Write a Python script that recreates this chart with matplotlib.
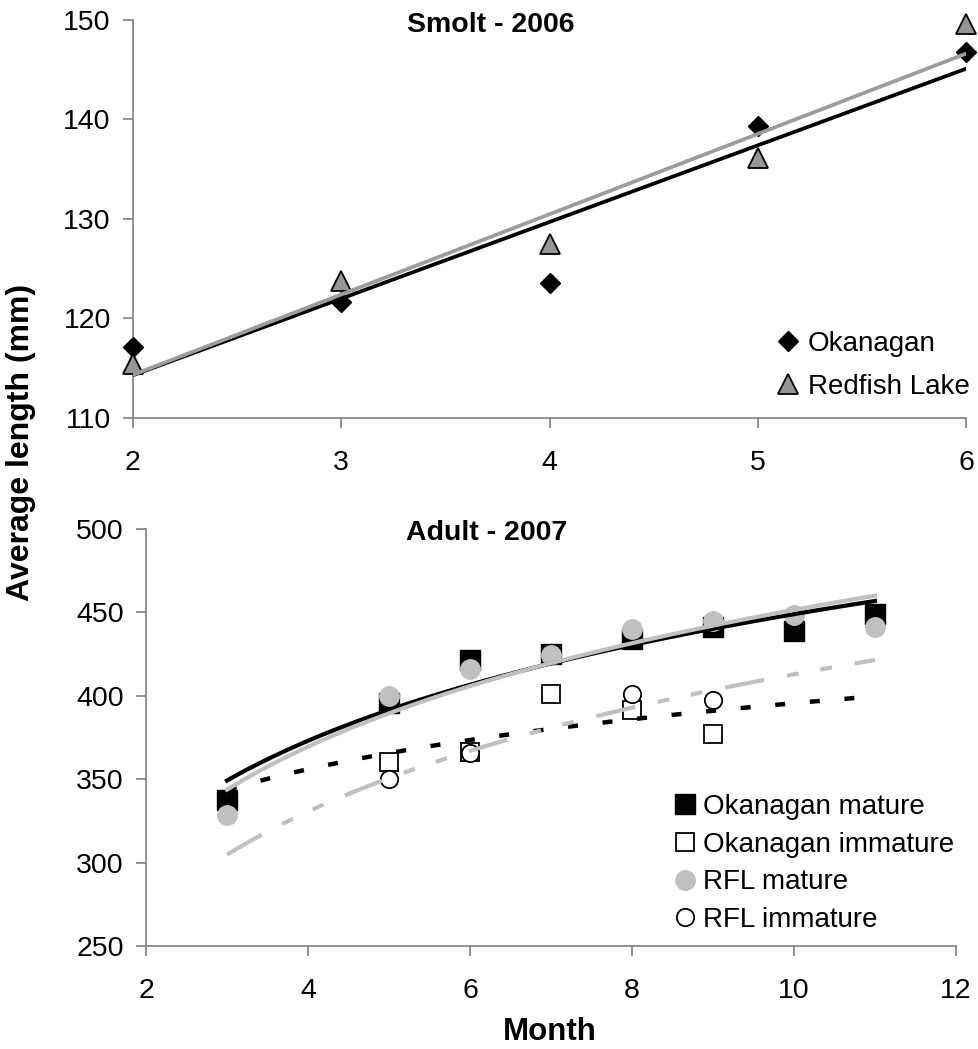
import matplotlib
matplotlib.use("Agg")
import matplotlib.pyplot as plt
import numpy as np

plt.rcParams["font.family"] = ["Liberation Sans", "DejaVu Sans"]
plt.rcParams["lines.scale_dashes"] = False

# ── Smolt 2006 ────────────────────────────────────────────
smolt_month = [2, 3, 4, 5, 6]
okanagan_smolt = [117.1, 121.7, 123.6, 139.3, 146.8]
redfish_smolt = [115.4, 123.8, 127.5, 136.1, 149.6]

# ── Adult 2007 ────────────────────────────────────────────
adult_month = [3, 5, 6, 7, 8, 9, 10, 11]
okanagan_mature = [337.6, 395.4, 421.3, 425.0, 434.0, 441.3, 438.9, 448.9]
rfl_mature = [328.6, 400.0, 416.0, 424.4, 439.7, 444.7, 448.3, 441.3]

okanagan_immature_month = [5, 6, 7, 8, 9]
okanagan_immature = [360.5, 366.5, 400.8, 391.4, 376.9]
rfl_immature_month = [5, 6, 8, 9]
rfl_immature = [350.0, 365.6, 400.8, 397.4]

FS = 20.5
LEG_FS = 20
SPINE = "#7f7f7f"


def style_axes(ax):
    for side in ("top", "right"):
        ax.spines[side].set_visible(False)
    for side in ("left", "bottom"):
        ax.spines[side].set_color(SPINE)
        ax.spines[side].set_linewidth(1.2)
    ax.tick_params(direction="out", length=7, width=1.2, color=SPINE,
                   labelsize=FS)
    ax.tick_params(axis="y", pad=9)
    ax.tick_params(axis="x", pad=16)


def linear_trend(x, y, lo, hi):
    k, b = np.polyfit(x, y, 1)
    xs = np.linspace(lo, hi, 100)
    return xs, k * xs + b


def log_trend(x, y, lo, hi):
    k, b = np.polyfit(np.log(x), y, 1)
    xs = np.linspace(lo, hi, 200)
    return xs, k * np.log(xs) + b


fig = plt.figure(figsize=(9.79, 10.49), dpi=100)
W, H = 979, 1049

# top panel: smolts
ax1 = fig.add_axes([133 / W, 1 - 418 / H, 833 / W, 398 / H])
style_axes(ax1)
ax1.set_xlim(2, 6)
ax1.set_ylim(110, 150)
ax1.set_xticks([2, 3, 4, 5, 6])
ax1.set_yticks([110, 120, 130, 140, 150])

ax1.plot(smolt_month, okanagan_smolt, ls="none", marker="D", ms=10,
         mfc="black", mec="black", clip_on=False, zorder=3, label="Okanagan")
ax1.plot(smolt_month, redfish_smolt, ls="none", marker="^", ms=14,
         mfc="#969696", mec="black", mew=1.3, clip_on=False, zorder=3,
         label="Redfish Lake")
xs, ys = linear_trend(smolt_month, okanagan_smolt, 2, 6)
ax1.plot(xs, ys, color="black", lw=2.7, zorder=4)
xs, ys = linear_trend(smolt_month, redfish_smolt, 2, 6)
ax1.plot(xs, ys, color="#9c9c9c", lw=2.7, zorder=4)

ax1.text(0.43, 0.987, "Smolt - 2006", transform=ax1.transAxes,
         ha="center", va="center", fontsize=FS, fontweight="bold")
ax1.legend(loc="upper left", bbox_to_anchor=(777 / W, 1 - 331 / H),
           bbox_transform=fig.transFigure, frameon=False, fontsize=LEG_FS,
           handlelength=0.8, handletextpad=0.3, labelspacing=0.62,
           borderpad=0, borderaxespad=0)

# bottom panel: adults
ax2 = fig.add_axes([146 / W, 1 - 946.3 / H, 810 / W, 417.7 / H])
style_axes(ax2)
ax2.set_xlim(2, 12)
ax2.set_ylim(250, 500)
ax2.set_xticks([2, 4, 6, 8, 10, 12])
ax2.set_yticks([250, 300, 350, 400, 450, 500])

ax2.plot(adult_month, okanagan_mature, ls="none", marker="s", ms=15,
         mfc="black", mec="black", zorder=3, label="Okanagan mature")
ax2.plot(okanagan_immature_month, okanagan_immature, ls="none", marker="s",
         ms=12.5, mfc="white", mec="black", mew=1.3, zorder=3,
         label="Okanagan immature")
ax2.plot(adult_month, rfl_mature, ls="none", marker="o", ms=14,
         mfc="#c0c0c0", mec="#c0c0c0", zorder=3, label="RFL mature")
ax2.plot(rfl_immature_month, rfl_immature, ls="none", marker="o", ms=12.5,
         mfc="white", mec="black", mew=1.3, zorder=3, label="RFL immature")

# logarithmic trendlines, drawn across the whole sampling season
xs, ys = log_trend(adult_month, okanagan_mature, 3, 11)
ax2.plot(xs, ys, color="black", lw=3.0, zorder=4)
xs, ys = log_trend(okanagan_immature_month, okanagan_immature, 3, 11)
ax2.plot(xs, ys, color="black", lw=3.2, dashes=[7.2, 17.8], zorder=4)
xs, ys = log_trend(adult_month, rfl_mature, 3, 11)
ax2.plot(xs, ys, color="#c0c0c0", lw=3.0, zorder=4)
xs, ys = log_trend(rfl_immature_month, rfl_immature, 3, 11)
ax2.plot(xs, ys, color="#c0c0c0", lw=3.0,
         dashes=[28.8, 16.6, 8.6, 15.8, 8.6, 16.6], zorder=4)

ax2.text(0.42, 0.989, "Adult - 2007", transform=ax2.transAxes,
         ha="center", va="center", fontsize=FS, fontweight="bold")
ax2.legend(loc="upper left", bbox_to_anchor=(674 / W, 1 - 794 / H),
           bbox_transform=fig.transFigure, frameon=False, fontsize=LEG_FS,
           handlelength=0.8, handletextpad=0.25, labelspacing=0.42,
           borderpad=0, borderaxespad=0)

fig.text(21.5 / W, 1 - 442 / H, "Average length (mm)", rotation=90,
         ha="center", va="center", fontsize=23, fontweight="bold")
fig.text(550 / W, 1 - 1032 / H, "Month", ha="center", va="center",
         fontsize=22.5, fontweight="bold")

fig.savefig("out.png", dpi=100)
